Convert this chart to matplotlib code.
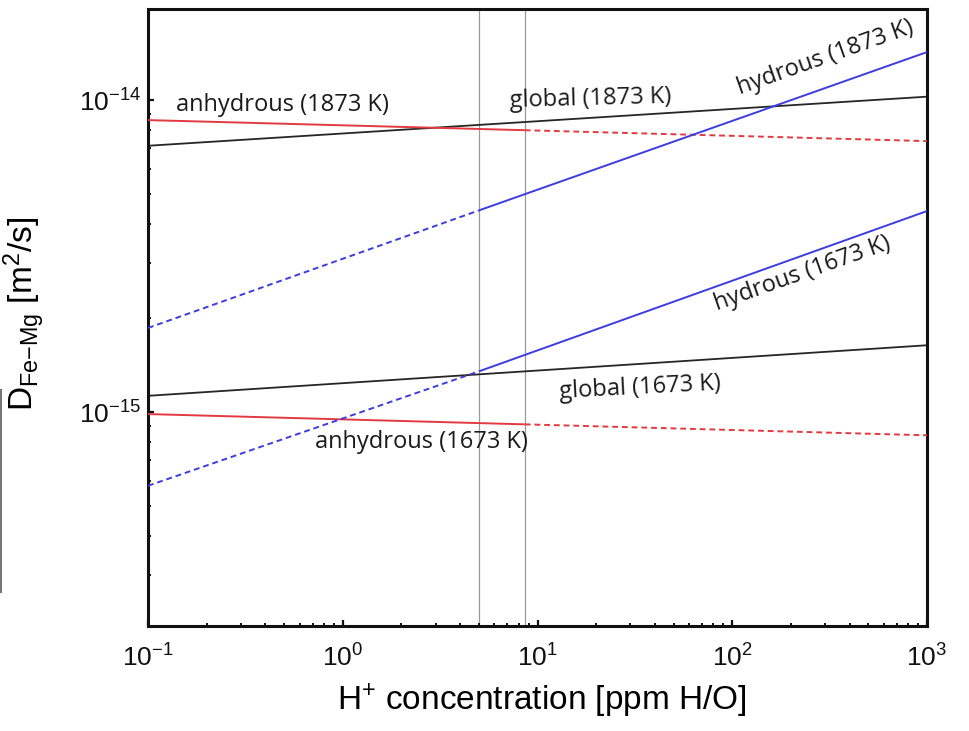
import matplotlib
matplotlib.use("Agg")
import matplotlib.pyplot as plt
from matplotlib.lines import Line2D
from matplotlib.ticker import LogLocator, NullFormatter, FixedLocator

plt.rcParams["mathtext.fontset"] = "custom"
plt.rcParams["mathtext.rm"] = "Liberation Sans"
plt.rcParams["mathtext.it"] = "Liberation Sans:italic"
plt.rcParams["mathtext.bf"] = "Liberation Sans:bold"
plt.rcParams["font.family"] = ["Liberation Sans", "DejaVu Sans"]

# H+ concentration [ppm H/O] and D_Fe-Mg [m^2/s]
x_end = [0.1, 1000]
x_anhyd = [0.1, 8.6, 1000]      # solid up to 8.6 ppm, dashed beyond
x_hyd = [0.1, 5.0, 1000]        # dashed up to 5 ppm, solid beyond

anhyd_1873 = [8.63e-15, 8.01e-15, 7.39e-15]
anhyd_1673 = [9.85e-16, 9.13e-16, 8.42e-16]
hyd_1873 = [1.86e-15, 4.43e-15, 1.426e-14]
hyd_1673 = [5.80e-16, 1.35e-15, 4.41e-15]
glob_1873 = [7.14e-15, 1.026e-14]
glob_1673 = [1.127e-15, 1.637e-15]

ref_lines = [5.0, 8.6]

x_ticks = [0.1, 1, 10, 100, 1000]
x_ticklabels = [r"$10^{-1}$", r"$10^{0}$", r"$10^{1}$", r"$10^{2}$", r"$10^{3}$"]
y_ticks = [1e-15, 1e-14]
y_ticklabels = [r"$10^{-15}$", r"$10^{-14}$"]

RED = "#e23a40"
BLUE = "#3c3ce0"
BLACK = "#262626"

fig = plt.figure(figsize=(9.69, 7.31), dpi=100)
ax = fig.add_axes([148 / 969, 1 - 626 / 731, (927 - 148) / 969, (626 - 9) / 731])
ax.set_xscale("log")
ax.set_yscale("log")
ax.set_xlim(0.1, 1000)
ax.set_ylim(2.06e-16, 1.96e-14)

for xv in ref_lines:
    ax.axvline(xv, color="#9a9a9a", lw=0.9, zorder=1)

dash = (3, 2)
# anhydrous: solid then dashed
for vals in (anhyd_1873, anhyd_1673):
    ax.plot(x_anhyd[:2], vals[:2], color=RED, lw=1.4, solid_capstyle="butt", zorder=3)
    ax.plot(x_anhyd[1:], vals[1:], color=RED, lw=1.4, dashes=dash, zorder=3)
# hydrous: dashed then solid
for vals in (hyd_1873, hyd_1673):
    ax.plot(x_hyd[:2], vals[:2], color=BLUE, lw=1.4, dashes=dash, zorder=3)
    ax.plot(x_hyd[1:], vals[1:], color=BLUE, lw=1.4, solid_capstyle="butt", zorder=3)
# global
for vals in (glob_1873, glob_1673):
    ax.plot(x_end, vals, color=BLACK, lw=1.3, zorder=2)

lab = dict(family=["Open Sans", "DejaVu Sans"], fontsize=17, color="#1a1a1a",
           ha="center", va="center", rotation_mode="anchor")
ax.text(0.488, 9.64e-15, "anhydrous (1873 K)", **lab)
ax.text(18.6, 1.007e-14, "global (1873 K)", rotation=1.5, **lab)
ax.text(299, 1.364e-14, "hydrous (1873 K)", rotation=19.5, **lab)
ax.text(228, 2.77e-15, "hydrous (1673 K)", rotation=19.5, **lab)
ax.text(33.6, 1.194e-15, "global (1673 K)", rotation=3, **lab)
ax.text(2.54, 8.01e-16, "anhydrous (1673 K)", **lab)

for side in ("left", "bottom", "right", "top"):
    ax.spines[side].set_linewidth(2.2)
    ax.spines[side].set_color("#111111")

ax.xaxis.set_major_locator(FixedLocator(x_ticks))
ax.set_xticklabels(x_ticklabels)
ax.yaxis.set_major_locator(FixedLocator(y_ticks))
ax.set_yticklabels(y_ticklabels)
ax.xaxis.set_minor_locator(LogLocator(base=10, subs=range(2, 10), numticks=20))
ax.yaxis.set_minor_locator(LogLocator(base=10, subs=range(2, 10), numticks=20))
ax.xaxis.set_minor_formatter(NullFormatter())
ax.yaxis.set_minor_formatter(NullFormatter())
ax.tick_params(which="both", direction="in", top=False, right=False, colors="#111111",
               labelsize=19)
ax.tick_params(which="major", length=4.5, width=1.6)
ax.tick_params(axis="x", which="major", pad=13)
ax.tick_params(axis="y", which="major", pad=5)
ax.tick_params(which="minor", length=2.5, width=1.4)

ax.set_xlabel(r"H$^{+}$ concentration [ppm H/O]", fontsize=24)
ax.xaxis.set_label_coords(0.506, -0.09)
ax.set_ylabel(r"D$_{\mathrm{Fe{-}Mg}}$ [m$^{2}$/s]", fontsize=24)
ax.yaxis.set_label_coords(-0.13, 0.506)

# thin gray rule at the far left edge
fig.add_artist(Line2D([0.001, 0.001], [1 - 592 / 731, 1 - 390 / 731], color="#777777", lw=1.5))

fig.savefig("out.png", dpi=100)
